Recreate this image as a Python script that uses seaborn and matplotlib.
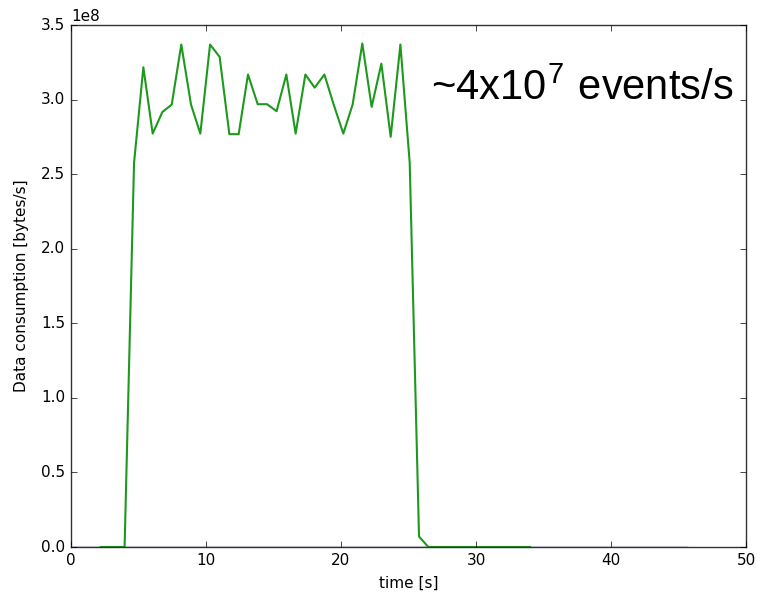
import numpy as np
import pandas as pd
import matplotlib
matplotlib.use("Agg")
import matplotlib.pyplot as plt
import seaborn as sns

# idle series (flat at zero)
idle_t = [0.0, 45.6]
idle_rate = [0.0, 0.0]

# consumption series, time [s] and rate [1e8 bytes/s]
time_s = [2.2, 3.97, 4.67, 5.36, 6.05, 6.77, 7.46, 8.17, 8.89, 9.58, 10.30,
          11.01, 11.73, 12.42, 13.11, 13.83, 14.52, 15.23, 15.95, 16.64,
          17.36, 18.05, 18.77, 19.46, 20.17, 20.86, 21.58, 22.27, 22.99,
          23.68, 24.40, 25.09, 25.78, 26.47, 30.0, 34.0]
rate = [0.0, 0.0, 2.575, 3.217, 2.772, 2.917, 2.966, 3.369, 2.966, 2.772,
        3.369, 3.286, 2.768, 2.768, 3.168, 2.969, 2.969, 2.922, 3.168,
        2.772, 3.168, 3.080, 3.168, 2.966, 2.772, 2.966, 3.376, 2.951,
        3.241, 2.750, 3.369, 2.575, 0.07, 0.0, 0.0, 0.0]

df_idle = pd.DataFrame({"t": idle_t, "r": np.array(idle_rate) * 1e8})
df = pd.DataFrame({"t": time_s, "r": np.array(rate) * 1e8})

plt.style.use("classic")
fig = plt.figure(figsize=(7.57, 5.97), dpi=100, facecolor="white")
ax = fig.add_axes([71 / 757, 1 - 547 / 597, (746 - 71) / 757, (547 - 25) / 597])

sns.lineplot(data=df_idle, x="t", y="r", ax=ax, color="#1c1c8c", linewidth=1.0, estimator=None)
sns.lineplot(data=df, x="t", y="r", ax=ax, color="#1d991d", linewidth=1.5, estimator=None)

ax.set_xlim(0, 50)
ax.set_ylim(0, 3.5e8)
ax.set_xlabel("time [s]", fontsize=11, labelpad=6)
ax.set_ylabel("Data consumption [bytes/s]", fontsize=11, labelpad=9)
ax.tick_params(labelsize=11, direction="in", top=True, right=True, length=4)
ax.yaxis.get_offset_text().set_fontsize(11)
for sp in ax.spines.values():
    sp.set_color("#333333")

ax.text(26.7, 3.0e8, r"~4x10$^{\mathregular{7}}$ events/s", fontsize=30,
        family=["Liberation Sans", "DejaVu Sans"], va="baseline", ha="left")

fig.savefig("out.png", dpi=100, facecolor="white")
